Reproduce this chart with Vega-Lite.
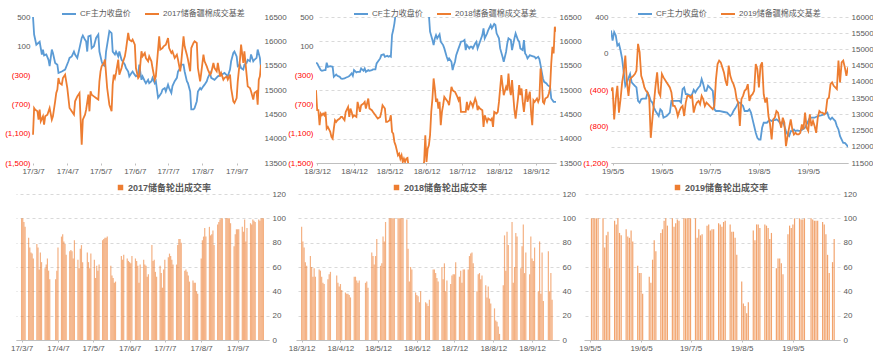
{
"$schema":"https://vega.github.io/schema/vega-lite/v6.json",
"padding":{"left":4,"top":6,"right":0,"bottom":0},
"background":"white",
"config":{"font":"Liberation Sans, Noto Sans CJK SC, sans-serif","view":{"stroke":null},
"axis":{"labelFontSize":8,"labelColor":"#595959","title":null,"labelFont":"Liberation Sans, Noto Sans CJK SC, sans-serif"},
"legend":{"labelFont":"Liberation Sans, Noto Sans CJK SC, sans-serif"}},
"datasets":{
"p17":[{"d":"2017-03-07","v":16500},{"d":"2017-03-08","v":16140},{"d":"2017-03-10","v":15930},{"d":"2017-03-13","v":15990},{"d":"2017-03-15","v":15730},{"d":"2017-03-16","v":15830},{"d":"2017-03-17","v":15710},{"d":"2017-03-19","v":15730},{"d":"2017-03-21","v":15620},{"d":"2017-03-22","v":15490},{"d":"2017-03-24","v":15830},{"d":"2017-03-25","v":15760},{"d":"2017-03-27","v":15555},{"d":"2017-03-29","v":15520},{"d":"2017-03-30","v":15350},{"d":"2017-04-02","v":15380},{"d":"2017-04-05","v":15420},{"d":"2017-04-08","v":15590},{"d":"2017-04-09","v":15660},{"d":"2017-04-11","v":15690},{"d":"2017-04-13","v":15790},{"d":"2017-04-14","v":15730},{"d":"2017-04-16","v":15660},{"d":"2017-04-18","v":15860},{"d":"2017-04-20","v":16070},{"d":"2017-04-21","v":16120},{"d":"2017-04-23","v":16030},{"d":"2017-04-24","v":16000},{"d":"2017-04-25","v":15790},{"d":"2017-04-26","v":16100},{"d":"2017-04-28","v":16120},{"d":"2017-04-29","v":15860},{"d":"2017-05-01","v":15900},{"d":"2017-05-03","v":16070},{"d":"2017-05-05","v":16140},{"d":"2017-05-06","v":15790},{"d":"2017-05-08","v":15590},{"d":"2017-05-09","v":15520},{"d":"2017-05-11","v":15490},{"d":"2017-05-12","v":15790},{"d":"2017-05-14","v":16070},{"d":"2017-05-15","v":16210},{"d":"2017-05-17","v":16170},{"d":"2017-05-18","v":15790},{"d":"2017-05-20","v":15730},{"d":"2017-05-21","v":15790},{"d":"2017-05-23","v":15690},{"d":"2017-05-24","v":15790},{"d":"2017-05-26","v":15620},{"d":"2017-05-27","v":15590},{"d":"2017-05-29","v":15520},{"d":"2017-05-30","v":15450},{"d":"2017-06-01","v":15380},{"d":"2017-06-02","v":15280},{"d":"2017-06-04","v":15350},{"d":"2017-06-05","v":15380},{"d":"2017-06-07","v":15310},{"d":"2017-06-08","v":15280},{"d":"2017-06-10","v":15310},{"d":"2017-06-11","v":15520},{"d":"2017-06-13","v":15210},{"d":"2017-06-14","v":15280},{"d":"2017-06-16","v":15180},{"d":"2017-06-17","v":15140},{"d":"2017-06-19","v":15210},{"d":"2017-06-20","v":15140},{"d":"2017-06-22","v":15180},{"d":"2017-06-23","v":15250},{"d":"2017-06-25","v":15140},{"d":"2017-06-26","v":15180},{"d":"2017-06-28","v":14840},{"d":"2017-06-29","v":14870},{"d":"2017-07-01","v":14940},{"d":"2017-07-02","v":15010},{"d":"2017-07-04","v":15040},{"d":"2017-07-05","v":14970},{"d":"2017-07-07","v":15110},{"d":"2017-07-08","v":15040},{"d":"2017-07-10","v":14940},{"d":"2017-07-11","v":15080},{"d":"2017-07-13","v":15180},{"d":"2017-07-15","v":15250},{"d":"2017-07-16","v":15380},{"d":"2017-07-18","v":15450},{"d":"2017-07-19","v":15520},{"d":"2017-07-21","v":15520},{"d":"2017-07-22","v":15380},{"d":"2017-07-24","v":15180},{"d":"2017-07-25","v":15140},{"d":"2017-07-27","v":14970},{"d":"2017-07-28","v":14600},{"d":"2017-07-30","v":14600},{"d":"2017-07-31","v":14630},{"d":"2017-08-02","v":14770},{"d":"2017-08-03","v":14970},{"d":"2017-08-05","v":15040},{"d":"2017-08-06","v":15010},{"d":"2017-08-08","v":15080},{"d":"2017-08-09","v":15110},{"d":"2017-08-11","v":15180},{"d":"2017-08-12","v":15250},{"d":"2017-08-14","v":15350},{"d":"2017-08-15","v":15250},{"d":"2017-08-18","v":15210},{"d":"2017-08-21","v":15280},{"d":"2017-08-24","v":15310},{"d":"2017-08-27","v":15350},{"d":"2017-08-30","v":15280},{"d":"2017-09-01","v":15420},{"d":"2017-09-02","v":15590},{"d":"2017-09-04","v":15760},{"d":"2017-09-05","v":15790},{"d":"2017-09-07","v":15690},{"d":"2017-09-08","v":15490},{"d":"2017-09-10","v":15520},{"d":"2017-09-11","v":15450},{"d":"2017-09-13","v":15420},{"d":"2017-09-14","v":15520},{"d":"2017-09-16","v":15555},{"d":"2017-09-17","v":15620},{"d":"2017-09-19","v":15590},{"d":"2017-09-20","v":15730},{"d":"2017-09-22","v":15590},{"d":"2017-09-23","v":15620},{"d":"2017-09-25","v":15660},{"d":"2017-09-26","v":15830},{"d":"2017-09-28","v":15660},{"d":"2017-09-29","v":15450}],
"b17":[{"d":"2017-03-07","v":-1112},{"d":"2017-03-08","v":-747},{"d":"2017-03-09","v":-769},{"d":"2017-03-11","v":-792},{"d":"2017-03-12","v":-906},{"d":"2017-03-13","v":-769},{"d":"2017-03-14","v":-929},{"d":"2017-03-16","v":-861},{"d":"2017-03-17","v":-975},{"d":"2017-03-18","v":-861},{"d":"2017-03-20","v":-838},{"d":"2017-03-22","v":-747},{"d":"2017-03-24","v":-906},{"d":"2017-03-25","v":-861},{"d":"2017-03-27","v":-655},{"d":"2017-03-28","v":-541},{"d":"2017-03-29","v":-495},{"d":"2017-03-30","v":-336},{"d":"2017-03-31","v":-404},{"d":"2017-04-02","v":-427},{"d":"2017-04-03","v":-336},{"d":"2017-04-05","v":-290},{"d":"2017-04-07","v":-473},{"d":"2017-04-09","v":-747},{"d":"2017-04-11","v":-792},{"d":"2017-04-13","v":-838},{"d":"2017-04-14","v":-655},{"d":"2017-04-16","v":-587},{"d":"2017-04-18","v":-541},{"d":"2017-04-19","v":-906},{"d":"2017-04-20","v":-1249},{"d":"2017-04-21","v":-906},{"d":"2017-04-23","v":-838},{"d":"2017-04-24","v":-769},{"d":"2017-04-26","v":-564},{"d":"2017-04-27","v":-792},{"d":"2017-04-28","v":-518},{"d":"2017-04-29","v":-564},{"d":"2017-05-01","v":-587},{"d":"2017-05-03","v":-610},{"d":"2017-05-05","v":-632},{"d":"2017-05-06","v":-381},{"d":"2017-05-07","v":-244},{"d":"2017-05-08","v":-176},{"d":"2017-05-10","v":-130},{"d":"2017-05-11","v":-84},{"d":"2017-05-13","v":-473},{"d":"2017-05-15","v":-701},{"d":"2017-05-17","v":-792},{"d":"2017-05-18","v":-427},{"d":"2017-05-19","v":-290},{"d":"2017-05-20","v":-336},{"d":"2017-05-21","v":-267},{"d":"2017-05-23","v":-84},{"d":"2017-05-24","v":-290},{"d":"2017-05-26","v":-199},{"d":"2017-05-27","v":-130},{"d":"2017-05-29","v":-39},{"d":"2017-05-30","v":53},{"d":"2017-06-01","v":281},{"d":"2017-06-02","v":190},{"d":"2017-06-04","v":167},{"d":"2017-06-05","v":190},{"d":"2017-06-07","v":121},{"d":"2017-06-08","v":-199},{"d":"2017-06-10","v":-336},{"d":"2017-06-11","v":-313},{"d":"2017-06-13","v":30},{"d":"2017-06-14","v":-39},{"d":"2017-06-16","v":7},{"d":"2017-06-17","v":-62},{"d":"2017-06-19","v":-107},{"d":"2017-06-20","v":-39},{"d":"2017-06-22","v":-107},{"d":"2017-06-23","v":-199},{"d":"2017-06-25","v":-358},{"d":"2017-06-26","v":-313},{"d":"2017-06-28","v":53},{"d":"2017-06-29","v":235},{"d":"2017-06-30","v":53},{"d":"2017-07-02","v":75},{"d":"2017-07-03","v":98},{"d":"2017-07-05","v":121},{"d":"2017-07-07","v":212},{"d":"2017-07-08","v":75},{"d":"2017-07-10","v":7},{"d":"2017-07-11","v":30},{"d":"2017-07-13","v":-62},{"d":"2017-07-15","v":-16},{"d":"2017-07-16","v":-84},{"d":"2017-07-18","v":-244},{"d":"2017-07-19","v":-107},{"d":"2017-07-21","v":235},{"d":"2017-07-22","v":98},{"d":"2017-07-24","v":-16},{"d":"2017-07-25","v":-84},{"d":"2017-07-27","v":-244},{"d":"2017-07-28","v":75},{"d":"2017-07-30","v":144},{"d":"2017-07-31","v":167},{"d":"2017-08-02","v":144},{"d":"2017-08-03","v":-199},{"d":"2017-08-05","v":-381},{"d":"2017-08-06","v":-267},{"d":"2017-08-08","v":-16},{"d":"2017-08-09","v":-107},{"d":"2017-08-11","v":-176},{"d":"2017-08-12","v":-221},{"d":"2017-08-14","v":-290},{"d":"2017-08-15","v":-267},{"d":"2017-08-17","v":-130},{"d":"2017-08-18","v":-199},{"d":"2017-08-20","v":-244},{"d":"2017-08-21","v":-130},{"d":"2017-08-23","v":-313},{"d":"2017-08-24","v":-267},{"d":"2017-08-26","v":-358},{"d":"2017-08-27","v":-336},{"d":"2017-08-29","v":-313},{"d":"2017-08-30","v":-358},{"d":"2017-09-01","v":-290},{"d":"2017-09-02","v":-473},{"d":"2017-09-04","v":-655},{"d":"2017-09-05","v":-678},{"d":"2017-09-07","v":-610},{"d":"2017-09-08","v":-381},{"d":"2017-09-10","v":-84},{"d":"2017-09-11","v":121},{"d":"2017-09-13","v":-130},{"d":"2017-09-14","v":30},{"d":"2017-09-16","v":-290},{"d":"2017-09-17","v":-450},{"d":"2017-09-19","v":-473},{"d":"2017-09-20","v":-518},{"d":"2017-09-22","v":-632},{"d":"2017-09-23","v":-541},{"d":"2017-09-25","v":-518},{"d":"2017-09-26","v":-701},{"d":"2017-09-27","v":-358},{"d":"2017-09-28","v":-313},{"d":"2017-09-29","v":-153}],
"p18":[{"d":"2018-03-11","v":15560},{"d":"2018-03-12","v":15546},{"d":"2018-03-13","v":15498},{"d":"2018-03-15","v":15408},{"d":"2018-03-16","v":15395},{"d":"2018-03-18","v":15408},{"d":"2018-03-19","v":15408},{"d":"2018-03-20","v":15560},{"d":"2018-03-21","v":15477},{"d":"2018-03-23","v":15491},{"d":"2018-03-25","v":15477},{"d":"2018-03-26","v":15271},{"d":"2018-03-28","v":15319},{"d":"2018-03-29","v":15292},{"d":"2018-03-31","v":15271},{"d":"2018-04-01","v":15237},{"d":"2018-04-02","v":15230},{"d":"2018-04-04","v":15237},{"d":"2018-04-05","v":15251},{"d":"2018-04-07","v":15271},{"d":"2018-04-08","v":15285},{"d":"2018-04-10","v":15340},{"d":"2018-04-11","v":15292},{"d":"2018-04-12","v":15408},{"d":"2018-04-14","v":15360},{"d":"2018-04-15","v":15374},{"d":"2018-04-17","v":15374},{"d":"2018-04-18","v":15443},{"d":"2018-04-20","v":15395},{"d":"2018-04-21","v":15443},{"d":"2018-04-22","v":15374},{"d":"2018-04-24","v":15408},{"d":"2018-04-25","v":15395},{"d":"2018-04-27","v":15408},{"d":"2018-04-28","v":15422},{"d":"2018-04-30","v":15422},{"d":"2018-05-01","v":15546},{"d":"2018-05-02","v":15580},{"d":"2018-05-04","v":15649},{"d":"2018-05-05","v":15717},{"d":"2018-05-07","v":15731},{"d":"2018-05-08","v":15683},{"d":"2018-05-10","v":15704},{"d":"2018-05-11","v":15683},{"d":"2018-05-12","v":15697},{"d":"2018-05-13","v":15683},{"d":"2018-05-14","v":16129},{"d":"2018-05-15","v":16232},{"d":"2018-05-16","v":16370},{"d":"2018-05-17","v":16560},{"d":"2018-05-21","v":16800},{"d":"2018-05-31","v":16900},{"d":"2018-06-10","v":16850},{"d":"2018-06-12","v":16750},{"d":"2018-06-14","v":16550},{"d":"2018-06-15","v":16198},{"d":"2018-06-17","v":16026},{"d":"2018-06-18","v":15923},{"d":"2018-06-19","v":16061},{"d":"2018-06-20","v":16129},{"d":"2018-06-21","v":16061},{"d":"2018-06-23","v":16143},{"d":"2018-06-24","v":15992},{"d":"2018-06-26","v":15923},{"d":"2018-06-27","v":15855},{"d":"2018-06-29","v":15683},{"d":"2018-06-30","v":15614},{"d":"2018-07-01","v":15649},{"d":"2018-07-03","v":15580},{"d":"2018-07-04","v":15408},{"d":"2018-07-05","v":15511},{"d":"2018-07-06","v":15580},{"d":"2018-07-07","v":15717},{"d":"2018-07-09","v":15855},{"d":"2018-07-10","v":15923},{"d":"2018-07-11","v":15992},{"d":"2018-07-13","v":16006},{"d":"2018-07-14","v":16026},{"d":"2018-07-15","v":15820},{"d":"2018-07-16","v":15923},{"d":"2018-07-18","v":15855},{"d":"2018-07-19","v":15889},{"d":"2018-07-20","v":15889},{"d":"2018-07-21","v":15855},{"d":"2018-07-23","v":15958},{"d":"2018-07-24","v":15992},{"d":"2018-07-25","v":15855},{"d":"2018-07-26","v":15923},{"d":"2018-07-27","v":15992},{"d":"2018-07-29","v":16129},{"d":"2018-07-30","v":16267},{"d":"2018-07-31","v":16061},{"d":"2018-08-02","v":16164},{"d":"2018-08-03","v":16232},{"d":"2018-08-05","v":16335},{"d":"2018-08-06","v":16267},{"d":"2018-08-08","v":16356},{"d":"2018-08-09","v":16335},{"d":"2018-08-10","v":16164},{"d":"2018-08-12","v":16061},{"d":"2018-08-13","v":15855},{"d":"2018-08-15","v":15683},{"d":"2018-08-16","v":15580},{"d":"2018-08-18","v":15786},{"d":"2018-08-19","v":15958},{"d":"2018-08-20","v":16061},{"d":"2018-08-22","v":16026},{"d":"2018-08-23","v":15820},{"d":"2018-08-25","v":16061},{"d":"2018-08-26","v":16164},{"d":"2018-08-28","v":16026},{"d":"2018-08-29","v":15992},{"d":"2018-08-30","v":15855},{"d":"2018-09-01","v":15820},{"d":"2018-09-02","v":16026},{"d":"2018-09-03","v":15752},{"d":"2018-09-04","v":15717},{"d":"2018-09-05","v":15649},{"d":"2018-09-07","v":15717},{"d":"2018-09-08","v":15704},{"d":"2018-09-09","v":15697},{"d":"2018-09-11","v":15683},{"d":"2018-09-12","v":15649},{"d":"2018-09-14","v":15683},{"d":"2018-09-15","v":15635},{"d":"2018-09-16","v":15511},{"d":"2018-09-17","v":15374},{"d":"2018-09-18","v":15237},{"d":"2018-09-19","v":15168},{"d":"2018-09-21","v":15134},{"d":"2018-09-22","v":15099},{"d":"2018-09-24","v":15065},{"d":"2018-09-25","v":14825},{"d":"2018-09-27","v":14756},{"d":"2018-09-29","v":14756}],
"b18":[{"d":"2018-03-11","v":-502},{"d":"2018-03-12","v":-777},{"d":"2018-03-13","v":-777},{"d":"2018-03-14","v":-983},{"d":"2018-03-15","v":-823},{"d":"2018-03-16","v":-846},{"d":"2018-03-17","v":-823},{"d":"2018-03-18","v":-846},{"d":"2018-03-19","v":-800},{"d":"2018-03-20","v":-1029},{"d":"2018-03-21","v":-1006},{"d":"2018-03-23","v":-1074},{"d":"2018-03-24","v":-1143},{"d":"2018-03-25","v":-1166},{"d":"2018-03-26","v":-1029},{"d":"2018-03-27","v":-914},{"d":"2018-03-28","v":-937},{"d":"2018-03-29","v":-914},{"d":"2018-03-31","v":-891},{"d":"2018-04-01","v":-869},{"d":"2018-04-02","v":-869},{"d":"2018-04-04","v":-914},{"d":"2018-04-05","v":-800},{"d":"2018-04-07","v":-731},{"d":"2018-04-08","v":-869},{"d":"2018-04-09","v":-754},{"d":"2018-04-10","v":-800},{"d":"2018-04-11","v":-869},{"d":"2018-04-12","v":-846},{"d":"2018-04-14","v":-869},{"d":"2018-04-15","v":-663},{"d":"2018-04-17","v":-800},{"d":"2018-04-18","v":-708},{"d":"2018-04-20","v":-685},{"d":"2018-04-21","v":-663},{"d":"2018-04-22","v":-754},{"d":"2018-04-24","v":-617},{"d":"2018-04-25","v":-754},{"d":"2018-04-27","v":-777},{"d":"2018-04-28","v":-800},{"d":"2018-04-30","v":-846},{"d":"2018-05-01","v":-869},{"d":"2018-05-02","v":-891},{"d":"2018-05-04","v":-869},{"d":"2018-05-05","v":-800},{"d":"2018-05-06","v":-708},{"d":"2018-05-08","v":-754},{"d":"2018-05-09","v":-937},{"d":"2018-05-10","v":-937},{"d":"2018-05-12","v":-914},{"d":"2018-05-13","v":-846},{"d":"2018-05-14","v":-1074},{"d":"2018-05-15","v":-1097},{"d":"2018-05-16","v":-1212},{"d":"2018-05-17","v":-1258},{"d":"2018-05-18","v":-1326},{"d":"2018-05-19","v":-1395},{"d":"2018-05-20","v":-1372},{"d":"2018-05-21","v":-1441},{"d":"2018-05-22","v":-1395},{"d":"2018-05-23","v":-1486},{"d":"2018-05-24","v":-1441},{"d":"2018-05-25","v":-1486},{"d":"2018-05-26","v":-1441},{"d":"2018-05-27","v":-1432},{"d":"2018-05-28","v":-1560},{"d":"2018-05-31","v":-1650},{"d":"2018-06-04","v":-1700},{"d":"2018-06-08","v":-1620},{"d":"2018-06-09","v":-1550},{"d":"2018-06-10","v":-1486},{"d":"2018-06-11","v":-1120},{"d":"2018-06-12","v":-1486},{"d":"2018-06-13","v":-1303},{"d":"2018-06-14","v":-1258},{"d":"2018-06-15","v":-1120},{"d":"2018-06-16","v":-800},{"d":"2018-06-17","v":-617},{"d":"2018-06-18","v":-342},{"d":"2018-06-19","v":-479},{"d":"2018-06-20","v":-663},{"d":"2018-06-21","v":-617},{"d":"2018-06-22","v":-754},{"d":"2018-06-23","v":-663},{"d":"2018-06-24","v":-983},{"d":"2018-06-25","v":-800},{"d":"2018-06-26","v":-708},{"d":"2018-06-27","v":-594},{"d":"2018-06-29","v":-640},{"d":"2018-06-30","v":-663},{"d":"2018-07-01","v":-708},{"d":"2018-07-03","v":-457},{"d":"2018-07-04","v":-502},{"d":"2018-07-05","v":-516},{"d":"2018-07-06","v":-525},{"d":"2018-07-08","v":-594},{"d":"2018-07-09","v":-640},{"d":"2018-07-10","v":-594},{"d":"2018-07-11","v":-800},{"d":"2018-07-13","v":-800},{"d":"2018-07-14","v":-800},{"d":"2018-07-15","v":-800},{"d":"2018-07-16","v":-663},{"d":"2018-07-17","v":-777},{"d":"2018-07-19","v":-663},{"d":"2018-07-20","v":-685},{"d":"2018-07-21","v":-731},{"d":"2018-07-23","v":-617},{"d":"2018-07-24","v":-663},{"d":"2018-07-25","v":-777},{"d":"2018-07-26","v":-731},{"d":"2018-07-27","v":-754},{"d":"2018-07-29","v":-777},{"d":"2018-07-30","v":-1006},{"d":"2018-07-31","v":-846},{"d":"2018-08-02","v":-937},{"d":"2018-08-03","v":-891},{"d":"2018-08-05","v":-914},{"d":"2018-08-06","v":-891},{"d":"2018-08-07","v":-1006},{"d":"2018-08-08","v":-800},{"d":"2018-08-10","v":-823},{"d":"2018-08-11","v":-800},{"d":"2018-08-12","v":-663},{"d":"2018-08-14","v":-296},{"d":"2018-08-15","v":-434},{"d":"2018-08-16","v":-571},{"d":"2018-08-18","v":-457},{"d":"2018-08-19","v":-502},{"d":"2018-08-20","v":-274},{"d":"2018-08-21","v":-479},{"d":"2018-08-22","v":-571},{"d":"2018-08-23","v":-365},{"d":"2018-08-25","v":-777},{"d":"2018-08-26","v":-891},{"d":"2018-08-28","v":-617},{"d":"2018-08-29","v":-434},{"d":"2018-08-30","v":-571},{"d":"2018-08-31","v":-479},{"d":"2018-09-01","v":-663},{"d":"2018-09-02","v":-800},{"d":"2018-09-04","v":-489},{"d":"2018-09-05","v":-663},{"d":"2018-09-07","v":-525},{"d":"2018-09-08","v":-800},{"d":"2018-09-09","v":-983},{"d":"2018-09-10","v":-640},{"d":"2018-09-11","v":-663},{"d":"2018-09-13","v":-617},{"d":"2018-09-14","v":-663},{"d":"2018-09-15","v":-617},{"d":"2018-09-16","v":-205},{"d":"2018-09-17","v":-342},{"d":"2018-09-18","v":-663},{"d":"2018-09-19","v":-685},{"d":"2018-09-20","v":-617},{"d":"2018-09-22","v":-594},{"d":"2018-09-23","v":-548},{"d":"2018-09-24","v":-479},{"d":"2018-09-25","v":-136},{"d":"2018-09-26","v":93},{"d":"2018-09-27","v":1},{"d":"2018-09-28","v":367},{"d":"2018-09-29","v":299}],
"p19":[{"d":"2019-05-04","v":15586},{"d":"2019-05-05","v":15276},{"d":"2019-05-06","v":15534},{"d":"2019-05-07","v":15431},{"d":"2019-05-08","v":15121},{"d":"2019-05-09","v":15172},{"d":"2019-05-10","v":14966},{"d":"2019-05-11","v":14707},{"d":"2019-05-12","v":14293},{"d":"2019-05-13","v":13879},{"d":"2019-05-14","v":13983},{"d":"2019-05-16","v":14241},{"d":"2019-05-17","v":13983},{"d":"2019-05-18","v":13931},{"d":"2019-05-19","v":13879},{"d":"2019-05-20","v":13828},{"d":"2019-05-21","v":13414},{"d":"2019-05-22","v":13362},{"d":"2019-05-23","v":13466},{"d":"2019-05-24","v":13486},{"d":"2019-05-26","v":13486},{"d":"2019-05-27","v":13672},{"d":"2019-05-28","v":13569},{"d":"2019-05-29","v":13414},{"d":"2019-05-30","v":13362},{"d":"2019-05-31","v":13207},{"d":"2019-06-01","v":13103},{"d":"2019-06-03","v":12948},{"d":"2019-06-04","v":13155},{"d":"2019-06-05","v":13103},{"d":"2019-06-06","v":12897},{"d":"2019-06-08","v":12948},{"d":"2019-06-09","v":13000},{"d":"2019-06-10","v":13052},{"d":"2019-06-11","v":13414},{"d":"2019-06-12","v":13414},{"d":"2019-06-14","v":13414},{"d":"2019-06-16","v":13414},{"d":"2019-06-17","v":13362},{"d":"2019-06-18","v":13776},{"d":"2019-06-19","v":13828},{"d":"2019-06-20","v":13621},{"d":"2019-06-21","v":13621},{"d":"2019-06-23","v":13569},{"d":"2019-06-24","v":13621},{"d":"2019-06-25","v":13755},{"d":"2019-06-26","v":13672},{"d":"2019-06-27","v":13755},{"d":"2019-06-28","v":13828},{"d":"2019-06-29","v":13879},{"d":"2019-06-30","v":14086},{"d":"2019-07-01","v":13931},{"d":"2019-07-02","v":13724},{"d":"2019-07-03","v":13724},{"d":"2019-07-04","v":13879},{"d":"2019-07-05","v":13828},{"d":"2019-07-06","v":13776},{"d":"2019-07-07","v":13724},{"d":"2019-07-08","v":13155},{"d":"2019-07-09","v":13103},{"d":"2019-07-11","v":13103},{"d":"2019-07-14","v":13072},{"d":"2019-07-16","v":13052},{"d":"2019-07-18","v":12948},{"d":"2019-07-19","v":13000},{"d":"2019-07-20","v":13103},{"d":"2019-07-21","v":13176},{"d":"2019-07-22","v":13259},{"d":"2019-07-23","v":13362},{"d":"2019-07-24","v":13362},{"d":"2019-07-25","v":13310},{"d":"2019-07-26","v":13259},{"d":"2019-07-27","v":13103},{"d":"2019-07-29","v":13103},{"d":"2019-07-30","v":13155},{"d":"2019-07-31","v":13052},{"d":"2019-08-01","v":12845},{"d":"2019-08-02","v":12638},{"d":"2019-08-03","v":12431},{"d":"2019-08-04","v":12276},{"d":"2019-08-05","v":12224},{"d":"2019-08-06","v":12224},{"d":"2019-08-07","v":12586},{"d":"2019-08-08","v":12741},{"d":"2019-08-09","v":12741},{"d":"2019-08-10","v":12741},{"d":"2019-08-11","v":12793},{"d":"2019-08-12","v":12824},{"d":"2019-08-13","v":12793},{"d":"2019-08-14","v":12824},{"d":"2019-08-15","v":12824},{"d":"2019-08-16","v":12845},{"d":"2019-08-17","v":12814},{"d":"2019-08-19","v":12690},{"d":"2019-08-20","v":12793},{"d":"2019-08-21","v":12638},{"d":"2019-08-22","v":12483},{"d":"2019-08-23","v":12379},{"d":"2019-08-24","v":12328},{"d":"2019-08-25","v":12483},{"d":"2019-08-26","v":12483},{"d":"2019-08-27","v":12534},{"d":"2019-08-28","v":12483},{"d":"2019-08-29","v":12503},{"d":"2019-08-31","v":12483},{"d":"2019-09-03","v":12586},{"d":"2019-09-04","v":12690},{"d":"2019-09-05","v":12793},{"d":"2019-09-06","v":12897},{"d":"2019-09-07","v":12897},{"d":"2019-09-09","v":12897},{"d":"2019-09-11","v":12948},{"d":"2019-09-13","v":12969},{"d":"2019-09-15","v":13000},{"d":"2019-09-17","v":13052},{"d":"2019-09-18","v":12897},{"d":"2019-09-19","v":12845},{"d":"2019-09-20","v":12897},{"d":"2019-09-21","v":12845},{"d":"2019-09-22","v":12793},{"d":"2019-09-23","v":12638},{"d":"2019-09-24","v":12534},{"d":"2019-09-25","v":12328},{"d":"2019-09-27","v":12121},{"d":"2019-09-28","v":12121},{"d":"2019-09-29","v":12069},{"d":"2019-09-30","v":11997}],
"b19":[{"d":"2019-05-04","v":-409},{"d":"2019-05-05","v":-372},{"d":"2019-05-06","v":-722},{"d":"2019-05-07","v":-501},{"d":"2019-05-08","v":-354},{"d":"2019-05-09","v":-648},{"d":"2019-05-10","v":-501},{"d":"2019-05-11","v":-317},{"d":"2019-05-12","v":-207},{"d":"2019-05-13","v":-23},{"d":"2019-05-14","v":-317},{"d":"2019-05-15","v":-464},{"d":"2019-05-16","v":-280},{"d":"2019-05-17","v":-262},{"d":"2019-05-18","v":-244},{"d":"2019-05-19","v":-225},{"d":"2019-05-20","v":-189},{"d":"2019-05-21","v":106},{"d":"2019-05-22","v":14},{"d":"2019-05-23","v":-244},{"d":"2019-05-24","v":-299},{"d":"2019-05-25","v":-372},{"d":"2019-05-26","v":-409},{"d":"2019-05-27","v":-428},{"d":"2019-05-28","v":-483},{"d":"2019-05-29","v":-924},{"d":"2019-05-30","v":-722},{"d":"2019-05-31","v":-538},{"d":"2019-06-01","v":-354},{"d":"2019-06-02","v":-207},{"d":"2019-06-03","v":-428},{"d":"2019-06-04","v":-464},{"d":"2019-06-05","v":-225},{"d":"2019-06-06","v":-262},{"d":"2019-06-08","v":-317},{"d":"2019-06-10","v":-372},{"d":"2019-06-11","v":-428},{"d":"2019-06-12","v":-575},{"d":"2019-06-13","v":-575},{"d":"2019-06-14","v":-611},{"d":"2019-06-15","v":-685},{"d":"2019-06-16","v":-630},{"d":"2019-06-17","v":-593},{"d":"2019-06-18","v":-575},{"d":"2019-06-19","v":-685},{"d":"2019-06-20","v":-538},{"d":"2019-06-21","v":-464},{"d":"2019-06-22","v":-464},{"d":"2019-06-23","v":-483},{"d":"2019-06-24","v":-464},{"d":"2019-06-25","v":-648},{"d":"2019-06-26","v":-575},{"d":"2019-06-27","v":-538},{"d":"2019-06-28","v":-520},{"d":"2019-06-29","v":-556},{"d":"2019-06-30","v":-464},{"d":"2019-07-01","v":-501},{"d":"2019-07-02","v":-575},{"d":"2019-07-03","v":-538},{"d":"2019-07-04","v":-556},{"d":"2019-07-05","v":-575},{"d":"2019-07-06","v":-593},{"d":"2019-07-07","v":-611},{"d":"2019-07-08","v":-575},{"d":"2019-07-09","v":-280},{"d":"2019-07-10","v":-115},{"d":"2019-07-11","v":-78},{"d":"2019-07-12","v":-97},{"d":"2019-07-13","v":-152},{"d":"2019-07-14","v":-207},{"d":"2019-07-15","v":-299},{"d":"2019-07-16","v":-354},{"d":"2019-07-17","v":-133},{"d":"2019-07-18","v":-244},{"d":"2019-07-19","v":-299},{"d":"2019-07-20","v":-336},{"d":"2019-07-21","v":-391},{"d":"2019-07-22","v":-501},{"d":"2019-07-23","v":-538},{"d":"2019-07-24","v":-795},{"d":"2019-07-25","v":-501},{"d":"2019-07-26","v":-464},{"d":"2019-07-27","v":-409},{"d":"2019-07-28","v":-391},{"d":"2019-07-29","v":-336},{"d":"2019-07-30","v":-520},{"d":"2019-07-31","v":-464},{"d":"2019-08-01","v":-446},{"d":"2019-08-02","v":-409},{"d":"2019-08-03","v":-115},{"d":"2019-08-04","v":-170},{"d":"2019-08-05","v":-372},{"d":"2019-08-06","v":-133},{"d":"2019-08-07","v":-97},{"d":"2019-08-08","v":-446},{"d":"2019-08-09","v":-538},{"d":"2019-08-10","v":-483},{"d":"2019-08-11","v":-685},{"d":"2019-08-12","v":-777},{"d":"2019-08-13","v":-942},{"d":"2019-08-14","v":-722},{"d":"2019-08-15","v":-703},{"d":"2019-08-16","v":-630},{"d":"2019-08-17","v":-648},{"d":"2019-08-18","v":-740},{"d":"2019-08-19","v":-813},{"d":"2019-08-20","v":-703},{"d":"2019-08-21","v":-758},{"d":"2019-08-22","v":-1016},{"d":"2019-08-23","v":-905},{"d":"2019-08-24","v":-813},{"d":"2019-08-25","v":-722},{"d":"2019-08-26","v":-832},{"d":"2019-08-27","v":-887},{"d":"2019-08-28","v":-869},{"d":"2019-08-29","v":-887},{"d":"2019-08-30","v":-887},{"d":"2019-08-31","v":-869},{"d":"2019-09-01","v":-777},{"d":"2019-09-02","v":-832},{"d":"2019-09-03","v":-648},{"d":"2019-09-04","v":-814},{"d":"2019-09-05","v":-850},{"d":"2019-09-06","v":-667},{"d":"2019-09-07","v":-795},{"d":"2019-09-08","v":-740},{"d":"2019-09-09","v":-795},{"d":"2019-09-10","v":-869},{"d":"2019-09-11","v":-703},{"d":"2019-09-12","v":-630},{"d":"2019-09-13","v":-648},{"d":"2019-09-14","v":-648},{"d":"2019-09-15","v":-667},{"d":"2019-09-16","v":-648},{"d":"2019-09-17","v":-501},{"d":"2019-09-18","v":-483},{"d":"2019-09-19","v":-336},{"d":"2019-09-20","v":-317},{"d":"2019-09-21","v":-354},{"d":"2019-09-22","v":-372},{"d":"2019-09-23","v":-391},{"d":"2019-09-24","v":-78},{"d":"2019-09-25","v":-317},{"d":"2019-09-26","v":-97},{"d":"2019-09-27","v":-78},{"d":"2019-09-28","v":-152},{"d":"2019-09-29","v":-244},{"d":"2019-09-30","v":-152}],
"r17":[{"d":"2017-03-07","v":100},{"d":"2017-03-08","v":100},{"d":"2017-03-09","v":97},{"d":"2017-03-10","v":93},{"d":"2017-03-13","v":84},{"d":"2017-03-14","v":76},{"d":"2017-03-15","v":72},{"d":"2017-03-16","v":71},{"d":"2017-03-17","v":67},{"d":"2017-03-20","v":79},{"d":"2017-03-21","v":76},{"d":"2017-03-22","v":58},{"d":"2017-03-23","v":72},{"d":"2017-03-24","v":64},{"d":"2017-03-27","v":59},{"d":"2017-03-28","v":62},{"d":"2017-03-29","v":67},{"d":"2017-03-30","v":57},{"d":"2017-03-31","v":50},{"d":"2017-04-05","v":50},{"d":"2017-04-06","v":57},{"d":"2017-04-07","v":76},{"d":"2017-04-10","v":85},{"d":"2017-04-11","v":87},{"d":"2017-04-12","v":81},{"d":"2017-04-13","v":79},{"d":"2017-04-14","v":70},{"d":"2017-04-17","v":73},{"d":"2017-04-18","v":74},{"d":"2017-04-19","v":73},{"d":"2017-04-20","v":67},{"d":"2017-04-21","v":82},{"d":"2017-04-24","v":66},{"d":"2017-04-25","v":59},{"d":"2017-04-26","v":75},{"d":"2017-04-27","v":78},{"d":"2017-04-28","v":64},{"d":"2017-05-02","v":72},{"d":"2017-05-03","v":64},{"d":"2017-05-04","v":59},{"d":"2017-05-05","v":71},{"d":"2017-05-08","v":66},{"d":"2017-05-09","v":51},{"d":"2017-05-10","v":61},{"d":"2017-05-11","v":57},{"d":"2017-05-12","v":62},{"d":"2017-05-15","v":82},{"d":"2017-05-16","v":83},{"d":"2017-05-17","v":84},{"d":"2017-05-18","v":84},{"d":"2017-05-19","v":85},{"d":"2017-05-22","v":61},{"d":"2017-05-23","v":53},{"d":"2017-05-24","v":51},{"d":"2017-05-25","v":47},{"d":"2017-05-26","v":48},{"d":"2017-05-31","v":69},{"d":"2017-06-01","v":66},{"d":"2017-06-02","v":70},{"d":"2017-06-05","v":67},{"d":"2017-06-06","v":65},{"d":"2017-06-07","v":64},{"d":"2017-06-08","v":63},{"d":"2017-06-09","v":69},{"d":"2017-06-12","v":67},{"d":"2017-06-13","v":65},{"d":"2017-06-14","v":61},{"d":"2017-06-15","v":47},{"d":"2017-06-16","v":62},{"d":"2017-06-19","v":66},{"d":"2017-06-20","v":62},{"d":"2017-06-21","v":61},{"d":"2017-06-22","v":52},{"d":"2017-06-23","v":54},{"d":"2017-06-26","v":78},{"d":"2017-06-27","v":65},{"d":"2017-06-28","v":66},{"d":"2017-06-29","v":56},{"d":"2017-06-30","v":52},{"d":"2017-07-03","v":61},{"d":"2017-07-04","v":55},{"d":"2017-07-05","v":43},{"d":"2017-07-06","v":58},{"d":"2017-07-07","v":66},{"d":"2017-07-10","v":68},{"d":"2017-07-11","v":71},{"d":"2017-07-12","v":69},{"d":"2017-07-13","v":66},{"d":"2017-07-14","v":62},{"d":"2017-07-17","v":62},{"d":"2017-07-18","v":78},{"d":"2017-07-19","v":83},{"d":"2017-07-20","v":83},{"d":"2017-07-21","v":80},{"d":"2017-07-24","v":57},{"d":"2017-07-25","v":58},{"d":"2017-07-26","v":56},{"d":"2017-07-27","v":53},{"d":"2017-07-28","v":48},{"d":"2017-07-31","v":49},{"d":"2017-08-01","v":47},{"d":"2017-08-02","v":47},{"d":"2017-08-03","v":40},{"d":"2017-08-04","v":38},{"d":"2017-08-07","v":67},{"d":"2017-08-08","v":82},{"d":"2017-08-09","v":85},{"d":"2017-08-10","v":92},{"d":"2017-08-11","v":85},{"d":"2017-08-14","v":93},{"d":"2017-08-15","v":86},{"d":"2017-08-16","v":87},{"d":"2017-08-17","v":90},{"d":"2017-08-18","v":78},{"d":"2017-08-21","v":95},{"d":"2017-08-22","v":97},{"d":"2017-08-23","v":99},{"d":"2017-08-24","v":100},{"d":"2017-08-25","v":100},{"d":"2017-08-28","v":100},{"d":"2017-08-29","v":100},{"d":"2017-08-30","v":100},{"d":"2017-08-31","v":100},{"d":"2017-09-01","v":96},{"d":"2017-09-04","v":77},{"d":"2017-09-05","v":87},{"d":"2017-09-06","v":91},{"d":"2017-09-07","v":91},{"d":"2017-09-08","v":91},{"d":"2017-09-11","v":93},{"d":"2017-09-12","v":89},{"d":"2017-09-13","v":99},{"d":"2017-09-14","v":81},{"d":"2017-09-15","v":92},{"d":"2017-09-18","v":96},{"d":"2017-09-19","v":95},{"d":"2017-09-20","v":99},{"d":"2017-09-21","v":98},{"d":"2017-09-22","v":97},{"d":"2017-09-25","v":99},{"d":"2017-09-26","v":98},{"d":"2017-09-27","v":100},{"d":"2017-09-28","v":100},{"d":"2017-09-29","v":100}],
"r18":[{"d":"2018-03-12","v":93},{"d":"2018-03-13","v":81},{"d":"2018-03-14","v":76},{"d":"2018-03-15","v":64},{"d":"2018-03-16","v":61},{"d":"2018-03-19","v":69},{"d":"2018-03-20","v":60},{"d":"2018-03-21","v":52},{"d":"2018-03-22","v":59},{"d":"2018-03-23","v":52},{"d":"2018-03-26","v":58},{"d":"2018-03-27","v":57},{"d":"2018-03-28","v":52},{"d":"2018-03-29","v":47},{"d":"2018-03-30","v":46},{"d":"2018-04-02","v":50},{"d":"2018-04-03","v":54},{"d":"2018-04-04","v":56},{"d":"2018-04-09","v":53},{"d":"2018-04-10","v":47},{"d":"2018-04-11","v":44},{"d":"2018-04-12","v":46},{"d":"2018-04-13","v":41},{"d":"2018-04-16","v":39},{"d":"2018-04-17","v":38},{"d":"2018-04-18","v":38},{"d":"2018-04-19","v":37},{"d":"2018-04-20","v":35},{"d":"2018-04-23","v":52},{"d":"2018-04-24","v":52},{"d":"2018-04-25","v":49},{"d":"2018-04-26","v":47},{"d":"2018-04-27","v":49},{"d":"2018-05-02","v":47},{"d":"2018-05-03","v":48},{"d":"2018-05-04","v":43},{"d":"2018-05-07","v":72},{"d":"2018-05-08","v":69},{"d":"2018-05-09","v":62},{"d":"2018-05-10","v":69},{"d":"2018-05-11","v":83},{"d":"2018-05-14","v":61},{"d":"2018-05-15","v":63},{"d":"2018-05-16","v":85},{"d":"2018-05-17","v":81},{"d":"2018-05-18","v":97},{"d":"2018-05-21","v":100},{"d":"2018-05-22","v":100},{"d":"2018-05-23","v":100},{"d":"2018-05-24","v":100},{"d":"2018-05-25","v":100},{"d":"2018-05-28","v":100},{"d":"2018-05-29","v":100},{"d":"2018-05-30","v":100},{"d":"2018-05-31","v":100},{"d":"2018-06-01","v":100},{"d":"2018-06-04","v":99},{"d":"2018-06-05","v":75},{"d":"2018-06-06","v":48},{"d":"2018-06-07","v":60},{"d":"2018-06-08","v":58},{"d":"2018-06-11","v":39},{"d":"2018-06-12","v":37},{"d":"2018-06-13","v":36},{"d":"2018-06-14","v":31},{"d":"2018-06-15","v":40},{"d":"2018-06-19","v":31},{"d":"2018-06-20","v":30},{"d":"2018-06-21","v":28},{"d":"2018-06-22","v":33},{"d":"2018-06-25","v":58},{"d":"2018-06-26","v":58},{"d":"2018-06-27","v":55},{"d":"2018-06-28","v":51},{"d":"2018-06-29","v":48},{"d":"2018-07-02","v":60},{"d":"2018-07-03","v":50},{"d":"2018-07-04","v":63},{"d":"2018-07-05","v":40},{"d":"2018-07-06","v":49},{"d":"2018-07-09","v":46},{"d":"2018-07-10","v":53},{"d":"2018-07-11","v":54},{"d":"2018-07-12","v":54},{"d":"2018-07-13","v":64},{"d":"2018-07-16","v":52},{"d":"2018-07-17","v":57},{"d":"2018-07-18","v":47},{"d":"2018-07-19","v":58},{"d":"2018-07-20","v":58},{"d":"2018-07-23","v":58},{"d":"2018-07-24","v":69},{"d":"2018-07-25","v":71},{"d":"2018-07-26","v":72},{"d":"2018-07-27","v":63},{"d":"2018-07-30","v":40},{"d":"2018-07-31","v":54},{"d":"2018-08-01","v":55},{"d":"2018-08-02","v":50},{"d":"2018-08-03","v":53},{"d":"2018-08-06","v":45},{"d":"2018-08-07","v":35},{"d":"2018-08-08","v":44},{"d":"2018-08-09","v":34},{"d":"2018-08-10","v":30},{"d":"2018-08-13","v":26},{"d":"2018-08-14","v":16},{"d":"2018-08-15","v":15},{"d":"2018-08-16","v":11},{"d":"2018-08-17","v":5},{"d":"2018-08-20","v":45},{"d":"2018-08-21","v":86},{"d":"2018-08-22","v":57},{"d":"2018-08-23","v":89},{"d":"2018-08-24","v":78},{"d":"2018-08-27","v":97},{"d":"2018-08-28","v":47},{"d":"2018-08-29","v":60},{"d":"2018-08-30","v":88},{"d":"2018-08-31","v":85},{"d":"2018-09-03","v":59},{"d":"2018-09-04","v":77},{"d":"2018-09-05","v":95},{"d":"2018-09-06","v":55},{"d":"2018-09-07","v":72},{"d":"2018-09-10","v":54},{"d":"2018-09-11","v":85},{"d":"2018-09-12","v":67},{"d":"2018-09-13","v":65},{"d":"2018-09-14","v":76},{"d":"2018-09-17","v":40},{"d":"2018-09-18","v":81},{"d":"2018-09-19","v":38},{"d":"2018-09-20","v":72},{"d":"2018-09-21","v":32},{"d":"2018-09-25","v":73},{"d":"2018-09-26","v":40},{"d":"2018-09-27","v":55},{"d":"2018-09-28","v":33}],
"r19":[{"d":"2019-05-06","v":100},{"d":"2019-05-07","v":100},{"d":"2019-05-08","v":100},{"d":"2019-05-09","v":100},{"d":"2019-05-10","v":100},{"d":"2019-05-13","v":100},{"d":"2019-05-14","v":76},{"d":"2019-05-15","v":86},{"d":"2019-05-16","v":89},{"d":"2019-05-17","v":59},{"d":"2019-05-20","v":98},{"d":"2019-05-21","v":95},{"d":"2019-05-22","v":100},{"d":"2019-05-23","v":88},{"d":"2019-05-24","v":86},{"d":"2019-05-27","v":91},{"d":"2019-05-28","v":85},{"d":"2019-05-29","v":84},{"d":"2019-05-30","v":90},{"d":"2019-05-31","v":81},{"d":"2019-06-03","v":61},{"d":"2019-06-04","v":55},{"d":"2019-06-05","v":55},{"d":"2019-06-06","v":38},{"d":"2019-06-10","v":52},{"d":"2019-06-11","v":47},{"d":"2019-06-12","v":66},{"d":"2019-06-13","v":82},{"d":"2019-06-14","v":73},{"d":"2019-06-17","v":88},{"d":"2019-06-18","v":91},{"d":"2019-06-19","v":98},{"d":"2019-06-20","v":100},{"d":"2019-06-21","v":94},{"d":"2019-06-24","v":100},{"d":"2019-06-25","v":93},{"d":"2019-06-26","v":96},{"d":"2019-06-27","v":99},{"d":"2019-06-28","v":98},{"d":"2019-07-01","v":100},{"d":"2019-07-02","v":100},{"d":"2019-07-03","v":100},{"d":"2019-07-04","v":100},{"d":"2019-07-05","v":100},{"d":"2019-07-08","v":100},{"d":"2019-07-09","v":84},{"d":"2019-07-10","v":91},{"d":"2019-07-11","v":86},{"d":"2019-07-12","v":87},{"d":"2019-07-15","v":94},{"d":"2019-07-16","v":95},{"d":"2019-07-17","v":90},{"d":"2019-07-18","v":91},{"d":"2019-07-19","v":91},{"d":"2019-07-22","v":96},{"d":"2019-07-23","v":95},{"d":"2019-07-24","v":93},{"d":"2019-07-25","v":97},{"d":"2019-07-26","v":98},{"d":"2019-07-29","v":95},{"d":"2019-07-30","v":89},{"d":"2019-07-31","v":89},{"d":"2019-08-01","v":84},{"d":"2019-08-02","v":70},{"d":"2019-08-05","v":48},{"d":"2019-08-06","v":30},{"d":"2019-08-07","v":28},{"d":"2019-08-08","v":22},{"d":"2019-08-09","v":31},{"d":"2019-08-12","v":90},{"d":"2019-08-13","v":82},{"d":"2019-08-14","v":95},{"d":"2019-08-15","v":95},{"d":"2019-08-16","v":92},{"d":"2019-08-19","v":95},{"d":"2019-08-20","v":94},{"d":"2019-08-21","v":92},{"d":"2019-08-22","v":83},{"d":"2019-08-23","v":88},{"d":"2019-08-26","v":59},{"d":"2019-08-27","v":67},{"d":"2019-08-28","v":67},{"d":"2019-08-29","v":63},{"d":"2019-08-30","v":54},{"d":"2019-09-02","v":87},{"d":"2019-09-03","v":94},{"d":"2019-09-04","v":92},{"d":"2019-09-05","v":95},{"d":"2019-09-06","v":100},{"d":"2019-09-09","v":100},{"d":"2019-09-10","v":99},{"d":"2019-09-11","v":99},{"d":"2019-09-12","v":100},{"d":"2019-09-16","v":100},{"d":"2019-09-17","v":99},{"d":"2019-09-18","v":98},{"d":"2019-09-19","v":98},{"d":"2019-09-20","v":98},{"d":"2019-09-23","v":97},{"d":"2019-09-24","v":95},{"d":"2019-09-25","v":87},{"d":"2019-09-26","v":70},{"d":"2019-09-27","v":55},{"d":"2019-09-29","v":64},{"d":"2019-09-30","v":83}]
},
"resolve":{"scale":{"color":"independent"}},
"spacing":8,
"vconcat":[
{"hconcat":[
{"width":245,"height":146,
"encoding":{"x":{"field":"d","type":"temporal","scale":{"type":"utc","domain":[{"year":2017,"month":2,"date":19,"hours":15,"utc":true},{"year":2017,"month":9,"date":29,"utc":true}]},"axis":{"values":[{"year":2017,"month":3,"date":7,"utc":true},{"year":2017,"month":4,"date":7,"utc":true},{"year":2017,"month":5,"date":7,"utc":true},{"year":2017,"month":6,"date":7,"utc":true},{"year":2017,"month":7,"date":7,"utc":true},{"year":2017,"month":8,"date":7,"utc":true},{"year":2017,"month":9,"date":7,"utc":true}],"format":"%y/%-m/%-d","domain":false,"ticks":true,"tickSize":2,"tickColor":"#BFBFBF","labelPadding":2,"grid":false}}},
"layer":[
{"data":{"values":[{"g":14000},{"g":14500},{"g":15000},{"g":15500},{"g":16000},{"g":16500}]},"mark":{"type":"rule","color":"#D9D9D9","strokeDash":[3,3],"strokeWidth":1},
"encoding":{"x":{"datum":{"year":2017,"month":3,"date":7,"utc":true},"type":"temporal"},"x2":{"datum":{"year":2017,"month":9,"date":29,"utc":true}},"y":{"field":"g","type":"quantitative","scale":{"domain":[13500,16500],"nice":false,"zero":false},"axis":null}}},
{"data":{"values":[{"g":13500}]},"mark":{"type":"rule","color":"#BFBFBF","strokeWidth":1},
"encoding":{"x":{"datum":{"year":2017,"month":3,"date":7,"utc":true},"type":"temporal"},"x2":{"datum":{"year":2017,"month":9,"date":29,"utc":true}},"y":{"field":"g","type":"quantitative","scale":{"domain":[13500,16500],"nice":false,"zero":false},"axis":null}}},
{"data":{"name":"p17"},"mark":{"type":"line","strokeWidth":1.8,"clip":true},
"encoding":{"y":{"field":"v","type":"quantitative","scale":{"domain":[13500,16500],"nice":false,"zero":false},"axis":{"orient":"right","values":[13500,14000,14500,15000,15500,16000,16500],"format":"d","grid":false,"domain":false,"ticks":false,"labelPadding":3}},
"color":{"datum":"CF主力收盘价","type":"nominal","scale":{"domain":["CF主力收盘价","2017储备疆棉成交基差"],"range":["#5B9BD5","#ED7D31"]},"legend":{"orient":"none","legendX":45,"legendY":-11,"direction":"horizontal","title":null,"symbolType":"stroke","symbolStrokeWidth":2,"symbolSize":196,"labelFontSize":8,"labelColor":"#595959","columnPadding":10,"labelOffset":3}}}},
{"data":{"name":"b17"},"mark":{"type":"line","strokeWidth":1.8,"clip":true},
"encoding":{"y":{"field":"v","type":"quantitative","scale":{"domain":[-1500,500],"nice":false,"zero":false},"axis":{"orient":"left","offset":-17,"values":[500,100,-300,-700,-1100,-1500],"format":"(,.0f","grid":false,"domain":false,"ticks":false,"labelPadding":3,"labelColor":{"condition":{"test":"datum.value < 0","value":"#FF0000"},"value":"#595959"}}},
"color":{"datum":"2017储备疆棉成交基差","type":"nominal"}}}
],
"resolve":{"scale":{"y":"independent"}}},
{"width":240,"height":146,
"encoding":{"x":{"field":"d","type":"temporal","scale":{"type":"utc","domain":[{"year":2018,"month":3,"date":11,"utc":true},{"year":2018,"month":9,"date":29,"utc":true}]},"axis":{"values":[{"year":2018,"month":3,"date":12,"utc":true},{"year":2018,"month":4,"date":12,"utc":true},{"year":2018,"month":5,"date":12,"utc":true},{"year":2018,"month":6,"date":12,"utc":true},{"year":2018,"month":7,"date":12,"utc":true},{"year":2018,"month":8,"date":12,"utc":true},{"year":2018,"month":9,"date":12,"utc":true}],"format":"%y/%-m/%-d","domain":true,"domainColor":"#BFBFBF","ticks":true,"tickSize":2,"tickColor":"#BFBFBF","labelPadding":2,"grid":false}}},
"layer":[
{"data":{"name":"p18"},"mark":{"type":"line","strokeWidth":1.8,"clip":true},
"encoding":{"y":{"field":"v","type":"quantitative","scale":{"domain":[13500,16500],"nice":false,"zero":false},"axis":{"orient":"right","values":[13500,14000,14500,15000,15500,16000,16500],"format":"d","grid":true,"gridDash":[3,3],"gridColor":"#D9D9D9","domain":false,"ticks":false,"labelPadding":3}},
"color":{"datum":"CF主力收盘价","type":"nominal","scale":{"domain":["CF主力收盘价","2018储备疆棉成交基差"],"range":["#5B9BD5","#ED7D31"]},"legend":{"orient":"none","legendX":37,"legendY":-11,"direction":"horizontal","title":null,"symbolType":"stroke","symbolStrokeWidth":2,"symbolSize":196,"labelFontSize":8,"labelColor":"#595959","columnPadding":10,"labelOffset":3}}}},
{"data":{"name":"b18"},"mark":{"type":"line","strokeWidth":1.8,"clip":true},
"encoding":{"y":{"field":"v","type":"quantitative","scale":{"domain":[-1500,500],"nice":false,"zero":false},"axis":{"orient":"left","values":[500,100,-300,-700,-1100,-1500],"format":"(,.0f","grid":false,"domain":false,"ticks":false,"labelPadding":3,"labelColor":{"condition":{"test":"datum.value < 0","value":"#FF0000"},"value":"#595959"}}},
"color":{"datum":"2018储备疆棉成交基差","type":"nominal"}}}
],
"resolve":{"scale":{"y":"independent"}}},
{"width":237,"height":146,
"encoding":{"x":{"field":"d","type":"temporal","scale":{"type":"utc","domain":[{"year":2019,"month":5,"date":4,"utc":true},{"year":2019,"month":9,"date":30,"utc":true}]},"axis":{"values":[{"year":2019,"month":5,"date":5,"utc":true},{"year":2019,"month":6,"date":5,"utc":true},{"year":2019,"month":7,"date":5,"utc":true},{"year":2019,"month":8,"date":5,"utc":true},{"year":2019,"month":9,"date":5,"utc":true}],"format":"%y/%-m/%-d","domain":true,"domainColor":"#BFBFBF","ticks":true,"tickSize":2,"tickColor":"#BFBFBF","labelPadding":2,"grid":false}}},
"layer":[
{"data":{"name":"p19"},"mark":{"type":"line","strokeWidth":1.8,"clip":true},
"encoding":{"y":{"field":"v","type":"quantitative","scale":{"domain":[11500,16000],"nice":false,"zero":false},"axis":{"orient":"right","values":[11500,12000,12500,13000,13500,14000,14500,15000,15500,16000],"format":"d","grid":true,"gridDash":[3,3],"gridColor":"#D9D9D9","domain":false,"ticks":false,"labelPadding":3}},
"color":{"datum":"CF主力收盘价","type":"nominal","scale":{"domain":["CF主力收盘价","2019储备疆棉成交基差"],"range":["#5B9BD5","#ED7D31"]},"legend":{"orient":"none","legendX":26,"legendY":-11,"direction":"horizontal","title":null,"symbolType":"stroke","symbolStrokeWidth":2,"symbolSize":196,"labelFontSize":8,"labelColor":"#595959","columnPadding":10,"labelOffset":3}}}},
{"data":{"name":"b19"},"mark":{"type":"line","strokeWidth":1.8,"clip":true},
"encoding":{"y":{"field":"v","type":"quantitative","scale":{"domain":[-1200,400],"nice":false,"zero":false},"axis":{"orient":"left","values":[400,0,-400,-800,-1200],"format":"(,.0f","grid":false,"domain":false,"ticks":false,"labelPadding":3,"labelColor":{"condition":{"test":"datum.value < 0","value":"#FF0000"},"value":"#595959"}}},
"color":{"datum":"2019储备疆棉成交基差","type":"nominal"}}}
],
"resolve":{"scale":{"y":"independent"}}}
],"spacing":0,"resolve":{"scale":{"color":"independent"}}},
{"hconcat":[
{"width":253,"height":146,"data":{"name":"r17"},"mark":{"type":"bar","width":1.2,"opacity":0.6},
"encoding":{"x":{"field":"d","type":"temporal","scale":{"type":"utc","domain":[{"year":2017,"month":3,"date":6,"hours":12,"utc":true},{"year":2017,"month":9,"date":29,"hours":12,"utc":true}]},"axis":{"values":[{"year":2017,"month":3,"date":7,"utc":true},{"year":2017,"month":4,"date":7,"utc":true},{"year":2017,"month":5,"date":7,"utc":true},{"year":2017,"month":6,"date":7,"utc":true},{"year":2017,"month":7,"date":7,"utc":true},{"year":2017,"month":8,"date":7,"utc":true},{"year":2017,"month":9,"date":7,"utc":true}],"format":"%y/%-m/%-d","domain":true,"domainColor":"#BFBFBF","ticks":true,"tickSize":2,"tickColor":"#BFBFBF","labelPadding":2,"grid":false}},
"y":{"field":"v","type":"quantitative","scale":{"domain":[0,120],"nice":false},"axis":{"orient":"right","values":[0,20,40,60,80,100,120],"grid":true,"gridDash":[3,3],"gridColor":"#D9D9D9","domain":false,"ticks":false,"labelPadding":3}},
"color":{"datum":"2017储备轮出成交率","type":"nominal","scale":{"range":["#ED7D31"]},"legend":{"orient":"none","legendX":100,"legendY":-11,"title":null,"symbolType":"square","symbolSize":30,"symbolOpacity":1,"labelFontSize":9,"labelFontWeight":"bold","labelColor":"#595959","labelOffset":3}}}},
{"width":263,"height":146,"data":{"name":"r18"},"mark":{"type":"bar","width":1.2,"opacity":0.6},
"encoding":{"x":{"field":"d","type":"temporal","scale":{"type":"utc","domain":[{"year":2018,"month":3,"date":11,"hours":12,"utc":true},{"year":2018,"month":9,"date":29,"hours":12,"utc":true}]},"axis":{"values":[{"year":2018,"month":3,"date":12,"utc":true},{"year":2018,"month":4,"date":12,"utc":true},{"year":2018,"month":5,"date":12,"utc":true},{"year":2018,"month":6,"date":12,"utc":true},{"year":2018,"month":7,"date":12,"utc":true},{"year":2018,"month":8,"date":12,"utc":true},{"year":2018,"month":9,"date":12,"utc":true}],"format":"%y/%-m/%-d","domain":true,"domainColor":"#BFBFBF","ticks":true,"tickSize":2,"tickColor":"#BFBFBF","labelPadding":2,"grid":false}},
"y":{"field":"v","type":"quantitative","scale":{"domain":[0,120],"nice":false},"axis":{"orient":"right","values":[0,20,40,60,80,100,120],"grid":true,"gridDash":[3,3],"gridColor":"#D9D9D9","domain":false,"ticks":false,"labelPadding":3}},
"color":{"datum":"2018储备轮出成交率","type":"nominal","scale":{"range":["#ED7D31"]},"legend":{"orient":"none","legendX":96,"legendY":-11,"title":null,"symbolType":"square","symbolSize":30,"symbolOpacity":1,"labelFontSize":9,"labelFontWeight":"bold","labelColor":"#595959","labelOffset":3}}}},
{"width":256,"height":146,"data":{"name":"r19"},"mark":{"type":"bar","width":1.2,"opacity":0.7},
"encoding":{"x":{"field":"d","type":"temporal","scale":{"type":"utc","domain":[{"year":2019,"month":5,"date":4,"hours":12,"utc":true},{"year":2019,"month":9,"date":30,"hours":12,"utc":true}]},"axis":{"values":[{"year":2019,"month":5,"date":5,"utc":true},{"year":2019,"month":6,"date":5,"utc":true},{"year":2019,"month":7,"date":5,"utc":true},{"year":2019,"month":8,"date":5,"utc":true},{"year":2019,"month":9,"date":5,"utc":true}],"format":"%y/%-m/%-d","domain":true,"domainColor":"#BFBFBF","ticks":true,"tickSize":2,"tickColor":"#BFBFBF","labelPadding":2,"grid":false}},
"y":{"field":"v","type":"quantitative","scale":{"domain":[0,120],"nice":false},"axis":{"orient":"right","values":[0,20,40,60,80,100,120],"grid":true,"gridDash":[3,3],"gridColor":"#D9D9D9","domain":false,"ticks":false,"labelPadding":3}},
"color":{"datum":"2019储备轮出成交率","type":"nominal","scale":{"range":["#ED7D31"]},"legend":{"orient":"none","legendX":89,"legendY":-11,"title":null,"symbolType":"square","symbolSize":30,"symbolOpacity":1,"labelFontSize":9,"labelFontWeight":"bold","labelColor":"#595959","labelOffset":3}}}}
],"spacing":2,"resolve":{"scale":{"color":"independent"}}}
]
}
